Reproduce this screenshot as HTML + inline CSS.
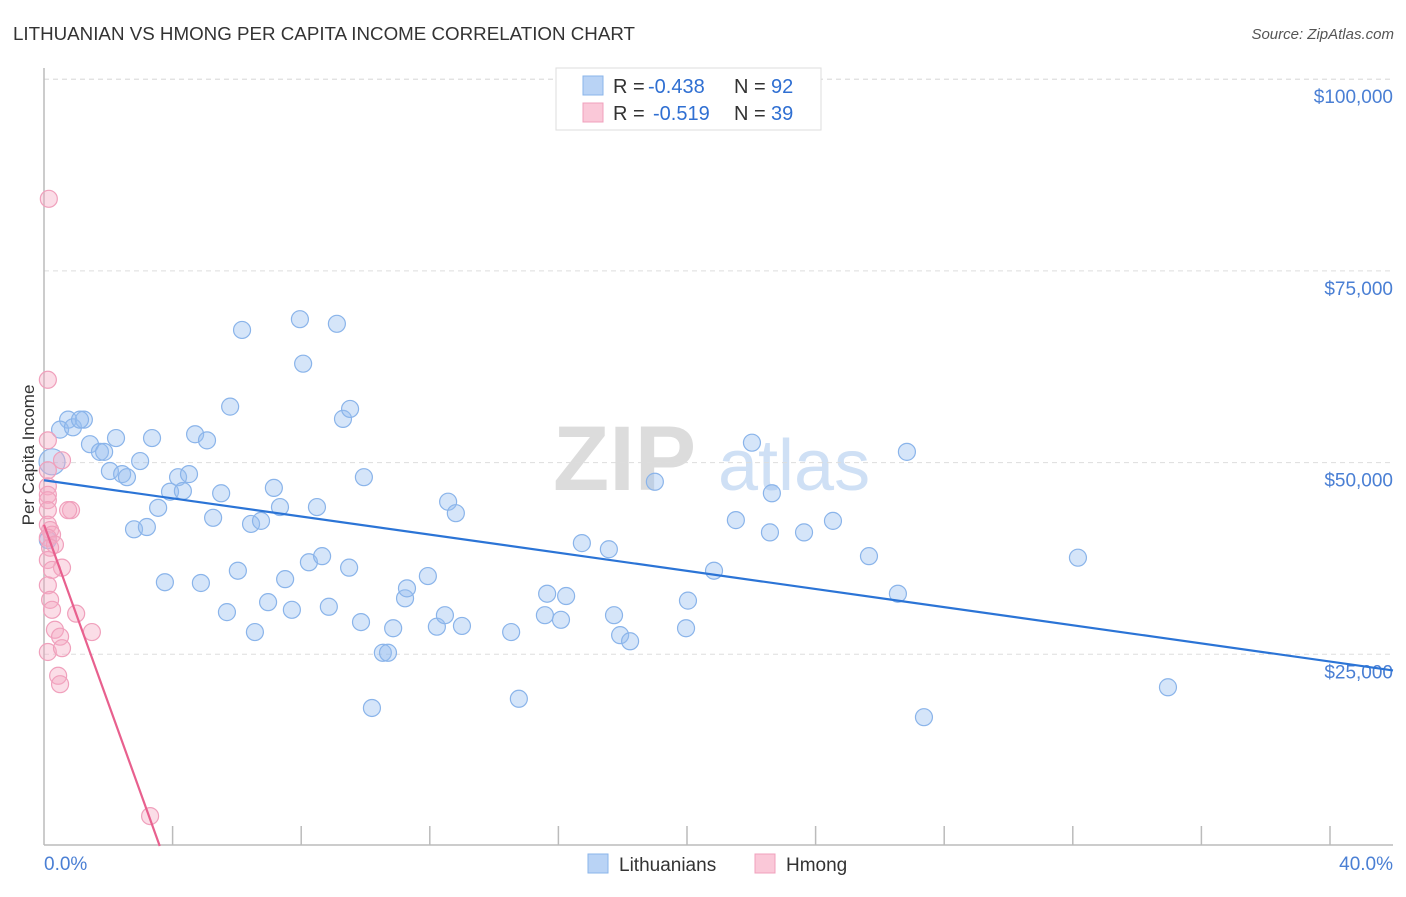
<!DOCTYPE html>
<html><head><meta charset="utf-8"><style>
body{margin:0;background:#fff;font-family:"Liberation Sans",sans-serif}
svg text{font-family:"Liberation Sans",sans-serif}
</style></head><body>
<svg id="chart" width="1406" height="892" xmlns="http://www.w3.org/2000/svg">
<text x="13" y="40" font-size="18" fill="#333" textLength="622" lengthAdjust="spacingAndGlyphs">LITHUANIAN VS HMONG PER CAPITA INCOME CORRELATION CHART</text>
<text x="1394" y="39" font-size="15" fill="#555" text-anchor="end" font-style="italic">Source: ZipAtlas.com</text>
<g>
<text x="553" y="490" font-size="92" fill="#dcdcdc" font-family="Liberation Serif" font-weight="bold">ZIP</text>
<text x="718" y="490" font-size="72" fill="#cfe0f5">atlas</text>
</g>
<g id="grid"></g>
<g id="axes"></g>
<g id="marks"></g>
<text transform="translate(34,455) rotate(-90)" font-size="17" fill="#333" text-anchor="middle">Per Capita Income</text>
<text x="44" y="870" font-size="19" fill="#4a7fd4">0.0%</text>
<text x="1393" y="870" font-size="19" fill="#4a7fd4" text-anchor="end">40.0%</text>
<g font-size="20">
<rect x="556" y="68" width="265" height="62" fill="#fff" stroke="#ddd"/>
<rect x="583" y="76" width="20" height="19" fill="#b9d3f5" stroke="#8ab4ea"/>
<rect x="583" y="103" width="20" height="19" fill="#fac8d8" stroke="#f0a0bc"/>
<text x="613" y="93" fill="#333">R =</text>
<text x="648" y="93" fill="#2f6fd2">-0.438</text>
<text x="734" y="93" fill="#333">N =</text>
<text x="771" y="93" fill="#2f6fd2">92</text>
<text x="613" y="120" fill="#333">R =</text>
<text x="653" y="120" fill="#2f6fd2">-0.519</text>
<text x="734" y="120" fill="#333">N =</text>
<text x="771" y="120" fill="#2f6fd2">39</text>
</g>
<g>
<rect x="588" y="854" width="20" height="19" fill="#b9d3f5" stroke="#8ab4ea"/>
<text x="619" y="871" font-size="19" fill="#333">Lithuanians</text>
<rect x="755" y="854" width="20" height="19" fill="#fac8d8" stroke="#f0a0bc"/>
<text x="786" y="871" font-size="19" fill="#333">Hmong</text>
</g>
</svg>
<script>
const yTicks=[25000,50000,75000,100000];
const yTickLabels=["$25,000","$50,000","$75,000","$100,000"];
const xTicks=[0,4,8,12,16,20,24,28,32,36,40];
const blueX=[.75,.5,.9,1.24,1.12,1.43,1.74,1.87,2.24,2.05,2.43,2.58,2.99,3.36,2.8,3.2,3.55,3.76,3.92,4.17,4.32,4.51,4.7,5.07,4.88,5.26,5.51,5.69,5.79,6.03,6.16,6.44,6.56,6.75,6.97,7.15,7.34,7.5,7.71,7.96,8.06,8.24,8.49,8.65,8.86,9.11,9.3,9.49,9.52,9.86,9.95,10.2,10.54,10.7,10.86,11.23,11.29,11.94,12.22,12.47,12.57,12.81,13,14.53,14.77,15.58,15.65,16.08,16.24,16.73,17.57,17.73,17.92,18.23,19,19.97,20.03,20.84,21.52,22.02,22.58,22.64,23.64,24.54,25.66,26.56,26.84,27.37,32.16,34.96,.25,.12];
const blueY=[55.6,54.3,54.6,55.6,55.6,52.4,51.4,51.4,53.2,48.9,48.5,48.1,50.2,53.2,41.3,41.6,44.1,34.4,46.2,48.1,46.3,48.5,53.7,52.9,34.3,42.8,46,30.5,57.3,35.9,67.3,42,27.9,42.4,31.8,46.7,44.2,34.8,30.8,68.7,62.9,37,44.2,37.8,31.2,68.1,55.7,36.3,57,29.2,48.1,18,25.2,25.2,28.4,32.3,33.6,35.2,28.6,30.1,44.9,43.4,28.7,27.9,19.2,30.1,32.9,29.5,32.6,39.5,38.7,30.1,27.5,26.7,47.5,28.4,32,35.9,42.5,52.6,40.9,46,40.9,42.4,37.8,32.9,51.4,16.8,37.6,20.7,50.1,39.9];
const pinkX=[.15,.12,.12,.56,.12,.12,.12,.12,.12,.84,.75,.12,.19,.25,.12,.34,.19,.12,.56,.25,.12,.19,.25,1,.34,1.49,.5,.12,.56,.44,.5,3.3];
const pinkY=[84.4,60.8,52.9,50.3,49,46.9,45.8,45.1,43.8,43.8,43.8,41.9,41.2,40.6,40.2,39.3,38.9,37.3,36.3,36,34,32.1,30.8,30.3,28.2,27.9,27.3,25.3,25.8,22.2,21.1,3.9];
const blueTrend=[[0,47.7],[41.96,22.9]];
const pinkTrend=[[0,41.9],[3.6,0]];
const X0=44,XS=32.15,Y0=846,YS=7.668;
const sx=v=>X0+v*XS, sy=k=>Y0-k*YS;
const NS="http://www.w3.org/2000/svg";
function mk(tag,attrs,parent){const e=document.createElementNS(NS,tag);for(const k in attrs)e.setAttribute(k,attrs[k]);parent.appendChild(e);return e;}
const grid=document.getElementById('grid'),axes=document.getElementById('axes'),marks=document.getElementById('marks');
mk('line',{x1:44,x2:1393,y1:sy(100),y2:sy(100),stroke:'#ddd','stroke-dasharray':'5,4'},grid);
yTicks.forEach((t,i)=>{const y=sy(t/1000);
 const l=mk('line',{x1:44,x2:1393,y1:y,y2:y,stroke:'#ddd','stroke-dasharray':'5,4'},grid);
 
 
 const tx=mk('text',{x:1393,y:y+24,'font-size':19,fill:'#4a7fd4','text-anchor':'end'},axes);
 tx.textContent=yTickLabels[i];
 
 
});
mk('line',{x1:44,x2:44,y1:68,y2:845,stroke:'#bbb','stroke-width':1.5},axes);
mk('line',{x1:44,x2:1393,y1:845,y2:845,stroke:'#bbb','stroke-width':1.5},axes);
xTicks.forEach(t=>{if(t===0)return;const x=sx(t);
 const l=mk('line',{x1:x,x2:x,y1:826,y2:845,stroke:'#bbb','stroke-width':1.5},axes);
 
 
});
function pts(xs,ys,fill,stroke,name){xs.forEach((v,i)=>{
 const r=(name==='lithuanian-point'&&i===xs.length-2)?13:8.5;
 const c=mk('circle',{cx:sx(v),cy:sy(ys[i]),r:r,fill:fill,stroke:stroke,'stroke-width':1.2},marks);
 
 
});}
pts(blueX,blueY,'rgba(150,190,240,0.4)','#8ab4ea','lithuanian-point');
pts(pinkX,pinkY,'rgba(245,170,195,0.4)','#f0a0bc','hmong-point');
const bl=mk('line',{x1:sx(blueTrend[0][0]),y1:sy(blueTrend[0][1]),x2:sx(blueTrend[1][0]),y2:sy(blueTrend[1][1]),stroke:'#2b74d6','stroke-width':2.2},marks);


const pl=mk('line',{x1:sx(pinkTrend[0][0]),y1:sy(pinkTrend[0][1]),x2:sx(pinkTrend[1][0]),y2:sy(pinkTrend[1][1]),stroke:'#e8608e','stroke-width':2.2},marks);


</script>
</body></html>
